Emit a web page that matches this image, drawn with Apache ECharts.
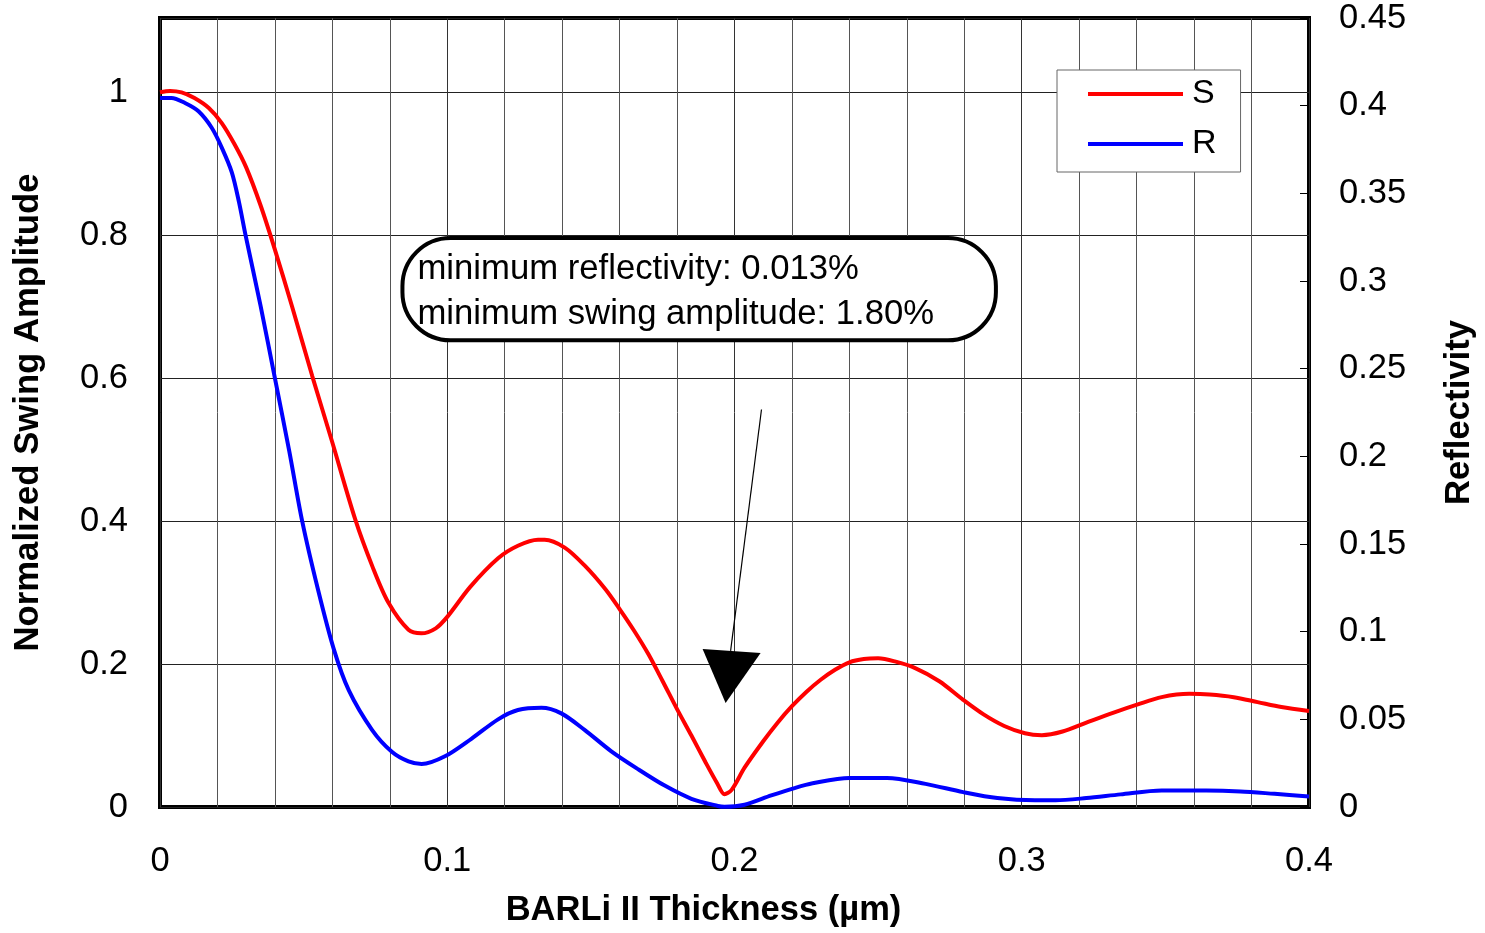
<!DOCTYPE html>
<html>
<head>
<meta charset="utf-8">
<title>Swing amplitude and reflectivity vs BARLi II thickness</title>
<script src="https://cdn.jsdelivr.net/npm/echarts@6/dist/echarts.min.js"></script>
<style>
  html, body { margin: 0; padding: 0; background: #fff; overflow: hidden; }
  #chart { width: 1485px; height: 933px; }
</style>
</head>
<body>
<div id="chart"></div>
<script>
// Normalized swing amplitude S (left axis) vs film thickness in µm
var thicknessS = [0, 0.0035, 0.0075, 0.012, 0.017, 0.0215, 0.026, 0.030, 0.035, 0.040,
  0.046, 0.053, 0.060, 0.068, 0.074, 0.0795, 0.0865, 0.091, 0.096, 0.100,
  0.108, 0.1177, 0.1246, 0.1316, 0.1339, 0.1409, 0.1478, 0.155, 0.160, 0.165,
  0.170, 0.175, 0.180, 0.185, 0.190, 0.194, 0.1965, 0.199, 0.2035, 0.210,
  0.215, 0.220, 0.225, 0.230, 0.235, 0.240, 0.245, 0.250, 0.2558, 0.2629,
  0.2713, 0.2796, 0.2867, 0.2939, 0.3011, 0.307, 0.3142, 0.3225, 0.332, 0.3404,
  0.3487, 0.3583, 0.3654, 0.3738, 0.3821, 0.3904, 0.4];
var swingS = [1.000, 1.002, 1.000, 0.992, 0.978, 0.957, 0.927, 0.895, 0.842, 0.780,
  0.700, 0.603, 0.510, 0.402, 0.336, 0.286, 0.248, 0.243, 0.250, 0.266,
  0.308, 0.348, 0.3655, 0.374, 0.374, 0.363, 0.338, 0.305, 0.277, 0.247,
  0.214, 0.176, 0.137, 0.100, 0.062, 0.033, 0.018, 0.024, 0.055, 0.092,
  0.118, 0.141, 0.161, 0.178, 0.192, 0.2025, 0.207, 0.208, 0.2037, 0.1944,
  0.176, 0.150, 0.1296, 0.1134, 0.1032, 0.1005, 0.1056, 0.118, 0.132, 0.1435,
  0.1537, 0.1583, 0.1574, 0.1537, 0.1468, 0.1398, 0.1343];

// Reflectivity R (right axis) vs film thickness in µm
var thicknessR = [0, 0.004, 0.0087, 0.0134, 0.018, 0.0215, 0.025, 0.0275, 0.0298, 0.035,
  0.040, 0.045, 0.0495, 0.055, 0.0605, 0.0657, 0.0738, 0.0807, 0.0865, 0.0911,
  0.0992, 0.1084, 0.1177, 0.1246, 0.1328, 0.1397, 0.1478, 0.157, 0.1664, 0.1757,
  0.185, 0.1942, 0.1965, 0.2035, 0.2128, 0.2209, 0.2272, 0.24, 0.2531, 0.2665,
  0.2796, 0.2915, 0.3046, 0.3118, 0.3225, 0.3344, 0.3487, 0.3642, 0.3761, 0.388,
  0.4];
var reflR = [0.4044, 0.4044, 0.4015, 0.3968, 0.3874, 0.3761, 0.362, 0.345, 0.326, 0.286,
  0.2446, 0.203, 0.163, 0.124, 0.090, 0.0666, 0.044, 0.0315, 0.026, 0.0245,
  0.0289, 0.0389, 0.0500, 0.0553, 0.0566, 0.0534, 0.044, 0.0319, 0.0216, 0.0122,
  0.0047, 0.0006, 0.00013, 0.0013, 0.0066, 0.0108, 0.0135, 0.0166, 0.0166, 0.0132,
  0.0085, 0.0051, 0.0038, 0.0038, 0.0051, 0.0072, 0.0094, 0.0094, 0.0089, 0.0075,
  0.006];

var seriesNames = ['S', 'R'];
var noteLines = ['minimum reflectivity: 0.013%', 'minimum swing amplitude: 1.80%'];
var xTitle = 'BARLi II Thickness (\u00b5m)';
var yLeftTitle = 'Normalized Swing Amplitude';
var yRightTitle = 'Reflectivity';

function zip(xs, ys) {
  return xs.map(function (x, i) { return [x, ys[i]]; });
}

var FONT = '"Liberation Sans", Arial, Helvetica, sans-serif';
var chart = echarts.init(document.getElementById('chart'), null, { renderer: 'canvas' });

var option = {
  animation: false,
  backgroundColor: '#fff',
  textStyle: { fontFamily: FONT, color: '#000' },
  grid: {
    left: 160, right: 173, top: 18, bottom: 119,
    show: true, borderColor: '#000', borderWidth: 4, backgroundColor: 'transparent'
  },
  legend: {
    orient: 'vertical',
    left: 1057, top: 70,
    padding: [6, 24, 10, 31],
    itemGap: 14,
    itemWidth: 95, itemHeight: 4,
    icon: 'rect',
    backgroundColor: '#fff',
    borderColor: '#666', borderWidth: 1,
    textStyle: { fontFamily: FONT, fontSize: 34, color: '#000', lineHeight: 36, padding: [0, 0, 0, 4] },
    data: seriesNames
  },
  xAxis: {
    type: 'value', min: 0, max: 0.4, interval: 0.1,
    name: xTitle, nameLocation: 'middle', nameGap: 86,
    nameTextStyle: { fontFamily: FONT, fontSize: 34.5, fontWeight: 'bold', color: '#000', padding: [0, 62, 0, 0] },
    axisLine: { show: false },
    axisTick: { show: false },
    axisLabel: { fontFamily: FONT, fontSize: 34.5, color: '#000', margin: 37 },
    splitLine: { show: true, lineStyle: { color: '#333', width: 1 } },
    minorTick: { show: false, splitNumber: 5 },
    minorSplitLine: { show: true, lineStyle: { color: '#555', width: 1 } }
  },
  yAxis: [
    {
      type: 'value', min: 0, max: 1.104, interval: 0.2,
      name: yLeftTitle, nameLocation: 'middle', nameGap: 114, nameRotate: 90,
      nameTextStyle: { fontFamily: FONT, fontSize: 34.7, fontWeight: 'bold', color: '#000' },
      axisLine: { show: false },
      axisTick: { show: false },
      axisLabel: { fontFamily: FONT, fontSize: 34.5, color: '#000', margin: 32, showMaxLabel: false, padding: [6, 0, 0, 0] },
      splitLine: { show: true, lineStyle: { color: '#222', width: 1 } }
    },
    {
      type: 'value', min: 0, max: 0.45, interval: 0.05, position: 'right',
      name: yRightTitle, nameLocation: 'middle', nameGap: 133, nameRotate: 90,
      nameTextStyle: { fontFamily: FONT, fontSize: 34.7, fontWeight: 'bold', color: '#000' },
      axisLine: { show: false },
      axisTick: { show: true, inside: true, length: 9, lineStyle: { color: '#000', width: 1 } },
      axisLabel: { fontFamily: FONT, fontSize: 34.5, color: '#000', margin: 30, padding: [6, 0, 0, 0] },
      splitLine: { show: false }
    }
  ],
  series: [
    {
      name: seriesNames[0], type: 'line', yAxisIndex: 0,
      data: zip(thicknessS, swingS),
      smooth: 0.3, showSymbol: false, symbol: 'none',
      lineStyle: { color: '#ff0000', width: 4 },
      itemStyle: { color: '#ff0000' }, z: 3
    },
    {
      name: seriesNames[1], type: 'line', yAxisIndex: 1,
      data: zip(thicknessR, reflR),
      smooth: 0.3, showSymbol: false, symbol: 'none',
      lineStyle: { color: '#0000ff', width: 4 },
      itemStyle: { color: '#0000ff' }, z: 3
    }
  ]
};
chart.setOption(option);

// Callout box and arrow, anchored in (thickness, swing amplitude) coordinates
function px(x, y) {
  return chart.convertToPixel({ xAxisIndex: 0, yAxisIndex: 0 }, [x, y]);
}
var boxTL = px(0.0844, 0.796);
var boxBR = px(0.2910, 0.653);
var tip = px(0.1969, 0.1456);
var tail = px(0.2094, 0.5562);

var graphics = [
  {
    type: 'rect', z: 10,
    shape: { x: boxTL[0], y: boxTL[1], width: boxBR[0] - boxTL[0], height: boxBR[1] - boxTL[1], r: 48 },
    style: { fill: '#fff', stroke: '#000', lineWidth: 4 }
  },
  {
    type: 'text', z: 11, x: boxTL[0] + 15, y: boxTL[1] + 31,
    style: { text: noteLines[0], font: '34.7px ' + FONT, fill: '#000', verticalAlign: 'middle' }
  },
  {
    type: 'text', z: 11, x: boxTL[0] + 15, y: boxTL[1] + 76,
    style: { text: noteLines[1], font: '34.7px ' + FONT, fill: '#000', verticalAlign: 'middle' }
  },
  {
    type: 'line', z: 10,
    shape: { x1: tail[0], y1: tail[1], x2: tip[0] + 5, y2: tip[1] - 52 },
    style: { stroke: '#000', lineWidth: 1.2 }
  },
  {
    type: 'polygon', z: 10,
    shape: { points: [[tip[0] - 23, tip[1] - 54], [tip[0] + 35, tip[1] - 50], [tip[0], tip[1]]] },
    style: { fill: '#000' }
  }
];
chart.setOption({ graphic: graphics });
</script>
</body>
</html>
